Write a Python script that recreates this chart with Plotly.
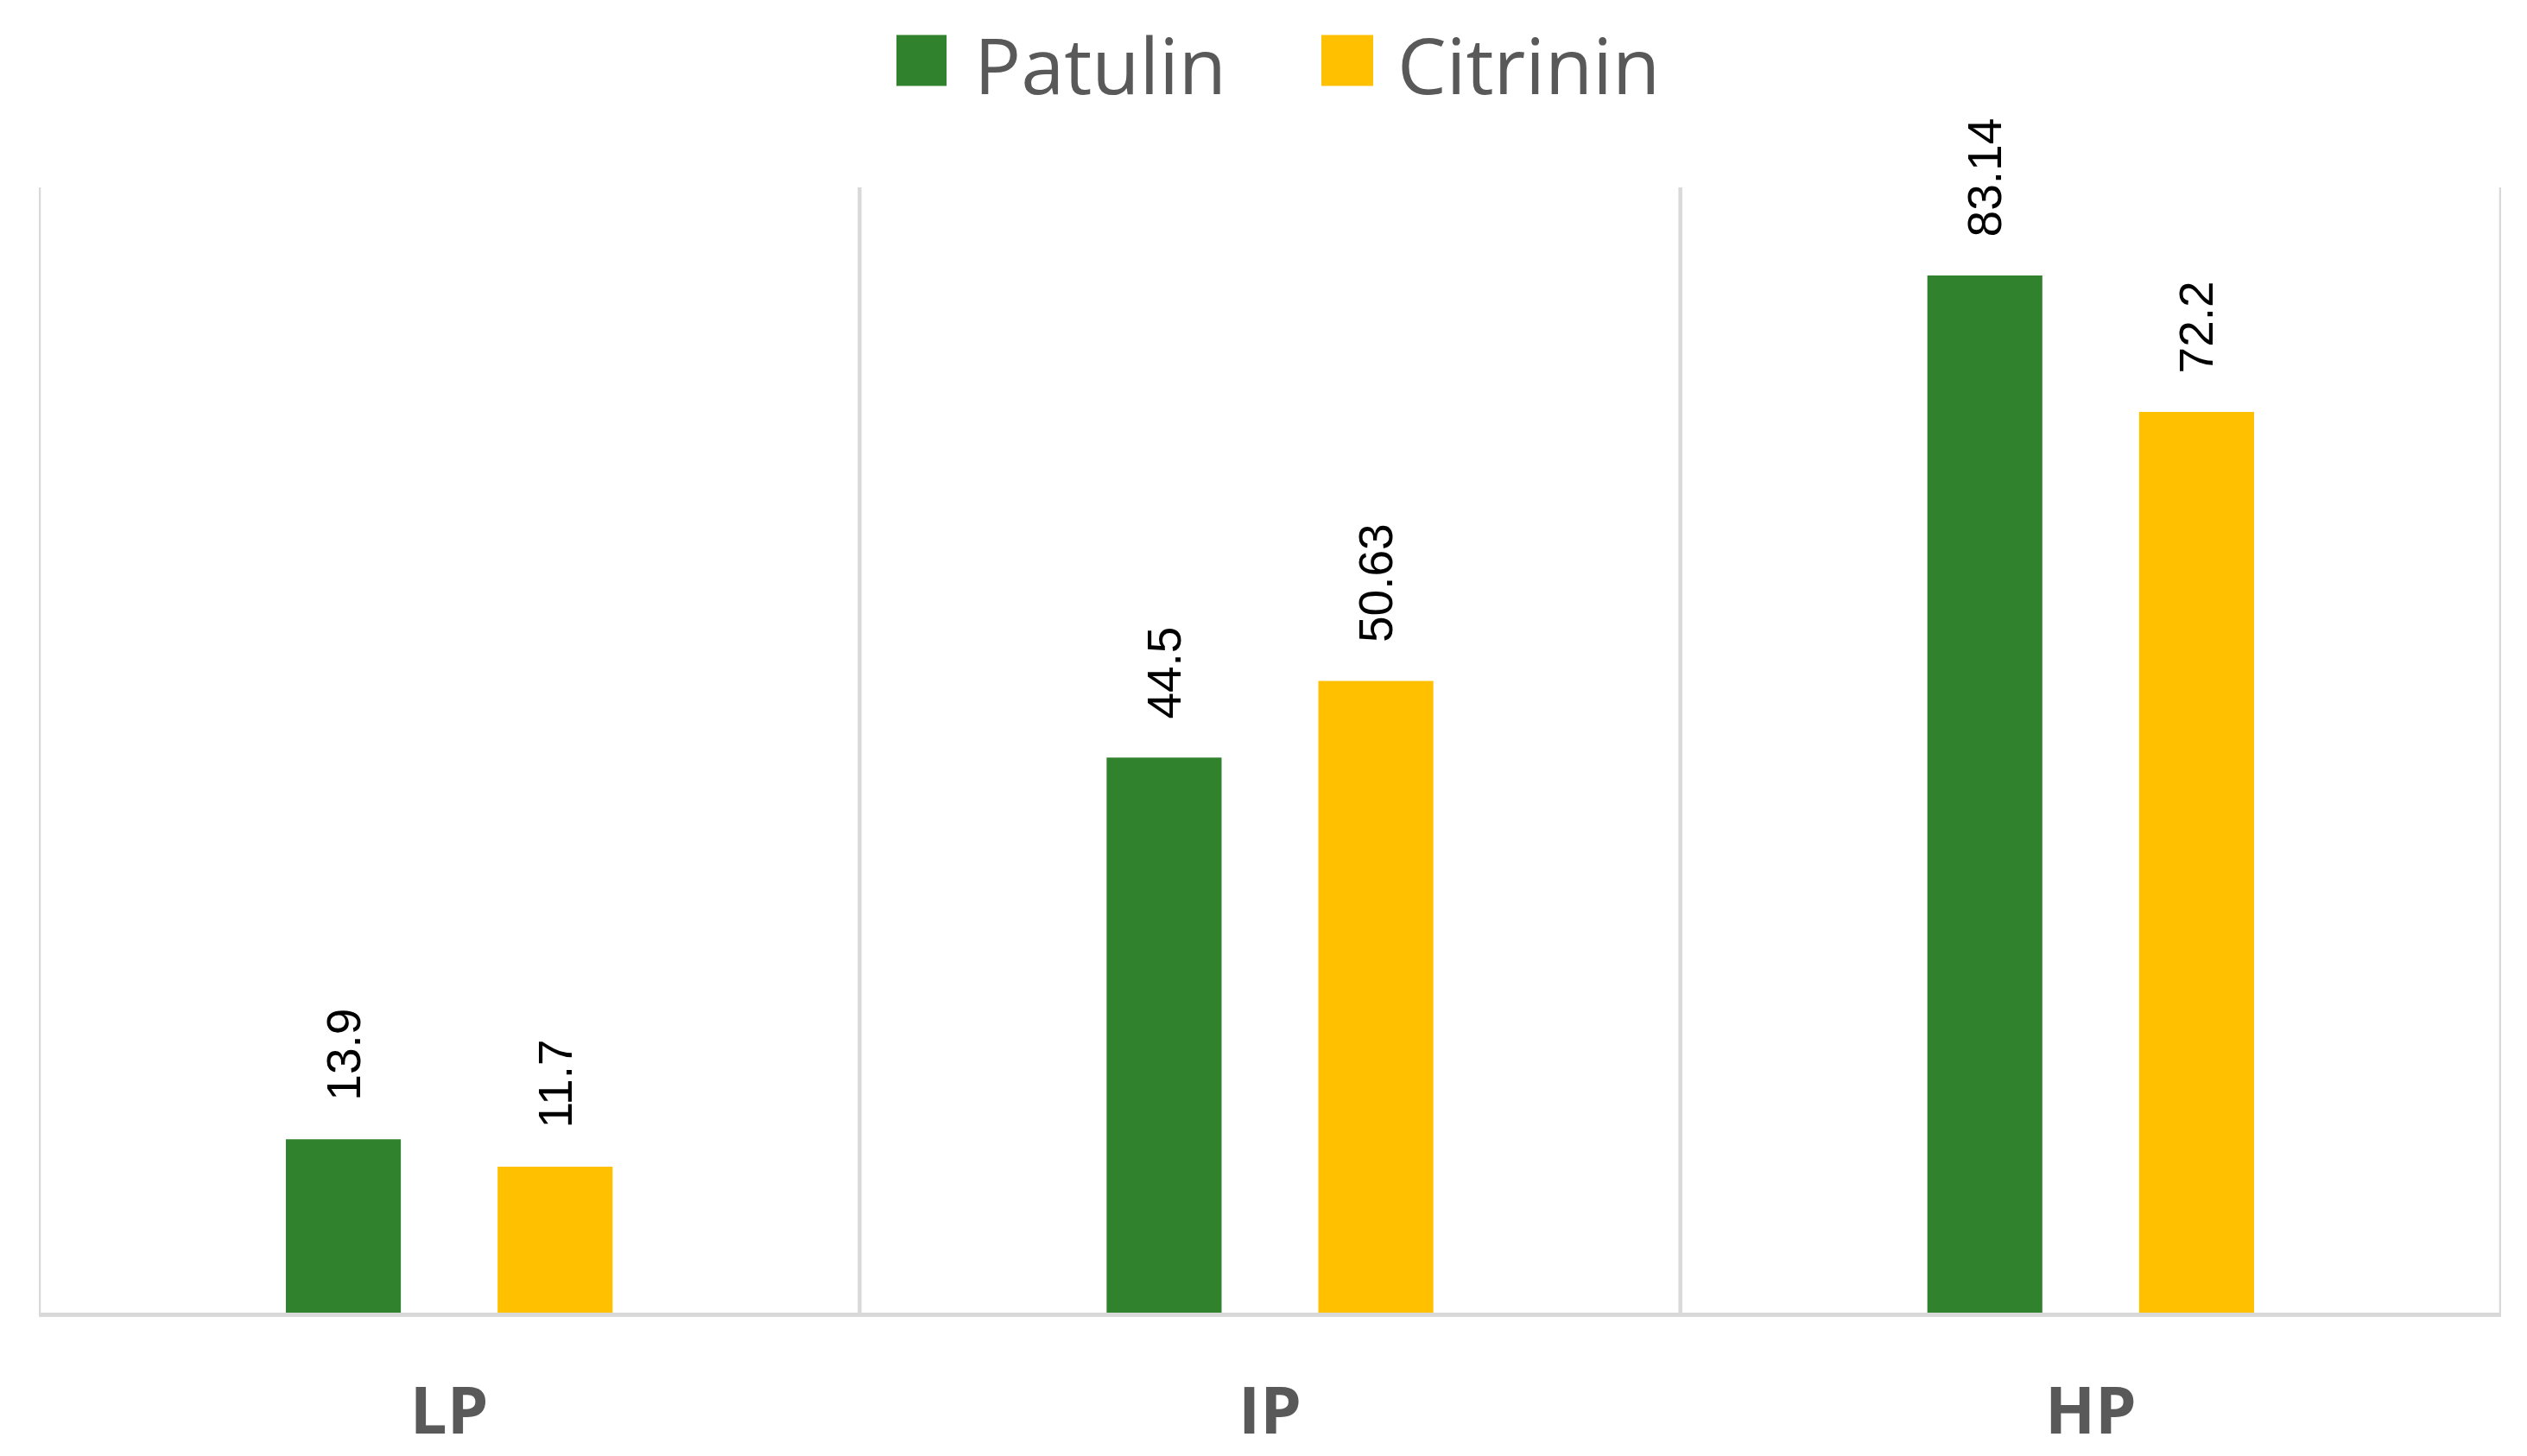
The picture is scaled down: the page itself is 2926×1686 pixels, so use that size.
import plotly.graph_objects as go

categories = ["LP", "IP", "HP"]
patulin = [13.9, 44.5, 83.14]
citrinin = [11.7, 50.63, 72.2]
series_names = ["Patulin", "Citrinin"]
colors = ["#31822C", "#FFC000"]

W, H = 2926, 1686
L, R, T, B = 37, 38, 209, 156
PW, PH = W - L - R, H - T - B

def px(x):
    return (x - L) / PW

def py(y):
    return (H - B - y) / PH

NB = "\u00a0\u00a0\u2009"

fig = go.Figure()
for name, vals, col in zip(series_names, [patulin, citrinin], colors):
    fig.add_trace(go.Bar(
        x=categories, y=vals, name=name, marker=dict(color=col, line=dict(width=0)),
        text=[NB + f"{v:g}" for v in vals], textposition="outside", textangle=-90,
        constraintext="none", cliponaxis=False,
        textfont=dict(family="Liberation Sans", size=55, color="#000000"),
        showlegend=False,
    ))

grid = "#D9D9D9"
shapes = []
for xv in [-0.5, 0.5, 1.5, 2.5]:
    shapes.append(dict(type="line", xref="x", yref="paper", x0=xv, x1=xv, y0=0, y1=1,
                       line=dict(color=grid, width=4.5), layer="below"))

# custom legend
leg = [("Patulin", colors[0], 1030, 1088, 1118), ("Citrinin", colors[1], 1522, 1582, 1608)]
annotations = []
for name, col, x0, x1, tx in leg:
    shapes.append(dict(type="rect", xref="paper", yref="paper", x0=px(x0), x1=px(x1),
                       y0=py(90), y1=py(30), fillcolor=col, line=dict(width=0)))
    annotations.append(dict(xref="paper", yref="paper", x=px(tx), y=py(64), text=name,
                            showarrow=False, xanchor="left", yanchor="middle",
                            font=dict(family="Open Sans", size=90, color="#595959")))

fig.update_layout(
    width=W, height=H, margin=dict(l=L, r=R, t=T, b=B, pad=0),
    paper_bgcolor="white", plot_bgcolor="white",
    barmode="group", bargap=0.484, bargroupgap=0.457,
    shapes=shapes, annotations=annotations,
    xaxis=dict(range=[-0.5, 2.5], showgrid=False, showline=True, linecolor=grid, linewidth=4.5,
               ticks="", ticklabelstandoff=44,
               tickfont=dict(family="Open Sans", size=76, color="#595959", weight="bold")),
    yaxis=dict(range=[0, 90.2], showgrid=False, showticklabels=False, zeroline=False, showline=False),
)

fig.write_html("out.html")
